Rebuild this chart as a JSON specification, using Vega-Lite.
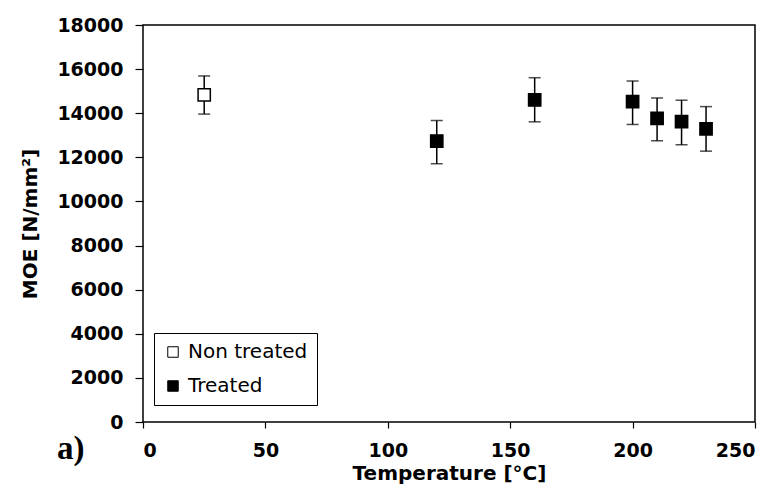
{
  "$schema": "https://vega.github.io/schema/vega-lite/v6.json",
  "width": 612,
  "height": 397,
  "autosize": {"type": "none"},
  "padding": {"left": 143, "top": 25, "right": 11, "bottom": 75},
  "background": "white",
  "title": {"text": "a)", "orient": "bottom", "anchor": "start", "frame": "group", "font": "Liberation Serif", "fontSize": 33, "fontWeight": "bold", "color": "black", "dx": -86, "dy": -54},
  "config": {
    "view": {"stroke": "black", "strokeWidth": 1.5},
    "font": "DejaVu Sans",
    "axis": {
      "grid": false, "domain": false, "ticks": true, "tickColor": "black", "tickWidth": 1.2,
      "labelFont": "DejaVu Sans", "labelFontWeight": "bold", "labelFontSize": 19, "labelColor": "black", "format": "d",
      "titleFont": "DejaVu Sans", "titleFontWeight": "bold", "titleFontSize": 20, "titleColor": "black"
    }
  },
  "data": {"values": [
    {"group": "Non treated", "temp": 25, "moe": 14830, "lo": 13960, "hi": 15690},
    {"group": "Treated", "temp": 120, "moe": 12740, "lo": 11710, "hi": 13670},
    {"group": "Treated", "temp": 160, "moe": 14600, "lo": 13610, "hi": 15610},
    {"group": "Treated", "temp": 200, "moe": 14530, "lo": 13490, "hi": 15460},
    {"group": "Treated", "temp": 210, "moe": 13770, "lo": 12750, "hi": 14690},
    {"group": "Treated", "temp": 220, "moe": 13620, "lo": 12570, "hi": 14590},
    {"group": "Treated", "temp": 230, "moe": 13290, "lo": 12280, "hi": 14300}
  ]},
  "encoding": {
    "x": {"field": "temp", "type": "quantitative", "scale": {"domain": [0, 250], "nice": false},
          "axis": {"values": [0, 50, 100, 150, 200, 250], "title": "Temperature [°C]", "tickSize": 6, "titlePadding": 3, "labelPadding": 13}}
  },
  "layer": [
    {"mark": {"type": "rule", "color": "black", "strokeWidth": 1.5},
     "encoding": {
       "y": {"field": "lo", "type": "quantitative", "scale": {"domain": [0, 18000], "nice": false},
             "axis": {"values": [0, 2000, 4000, 6000, 8000, 10000, 12000, 14000, 16000, 18000], "title": "MOE [N/mm²]", "tickSize": 8, "titlePadding": 16, "labelPadding": 12}},
       "y2": {"field": "hi"}}},
    {"mark": {"type": "tick", "orient": "horizontal", "size": 12, "thickness": 1.5, "color": "black"},
     "encoding": {"y": {"field": "lo", "type": "quantitative"}}},
    {"mark": {"type": "tick", "orient": "horizontal", "size": 12, "thickness": 1.5, "color": "black"},
     "encoding": {"y": {"field": "hi", "type": "quantitative"}}},
    {"mark": {"type": "square", "size": 150, "stroke": "black", "strokeWidth": 1.5, "opacity": 1},
     "encoding": {
       "y": {"field": "moe", "type": "quantitative"},
       "fill": {"field": "group", "type": "nominal",
                "scale": {"domain": ["Non treated", "Treated"], "range": ["white", "black"]},
                "legend": {"title": null, "orient": "none", "legendX": 11, "legendY": 308,
                           "strokeColor": "black", "fillColor": "white", "padding": 9, "rowPadding": 14,
                           "symbolType": "square", "symbolSize": 110, "symbolStrokeColor": "black", "symbolStrokeWidth": 1,
                           "labelFont": "DejaVu Sans", "labelFontSize": 20, "labelColor": "black", "labelOffset": 5}}}}
  ]
}
